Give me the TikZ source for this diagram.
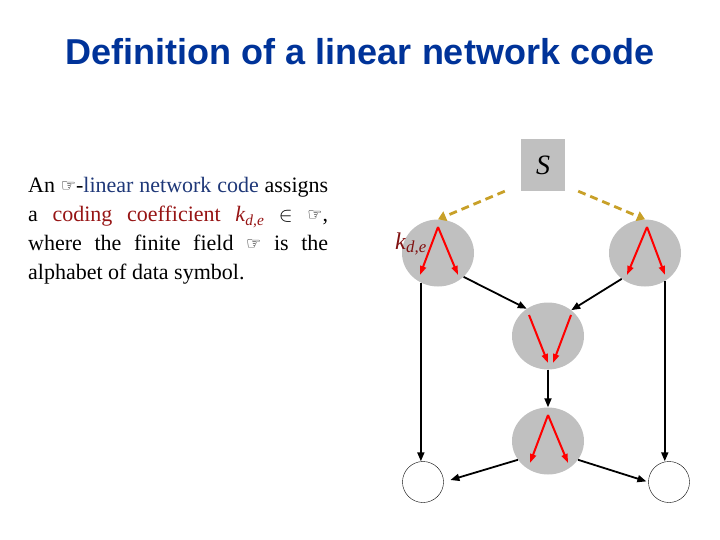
\documentclass[tikz,border=0pt]{standalone}
\usepackage{fontspec}
\setmainfont{Liberation Serif}
\newfontfamily\titlefont{Liberation Sans}
\newfontfamily\symfont{DejaVu Sans}
\usepackage{xcolor}
\usetikzlibrary{arrows.meta, positioning, shapes.geometric}

\hyphenpenalty=10000
\exhyphenpenalty=10000

\definecolor{titleblue}{RGB}{0,51,153}
\definecolor{termblue}{RGB}{31,56,120}
\definecolor{termred}{RGB}{150,20,20}
\definecolor{nodegray}{RGB}{192,192,192}
\definecolor{feedgold}{RGB}{200,160,40}

\newcommand{\fld}{{\symfont\fontsize{17}{17}\selectfont\raisebox{1pt}{☞}}}
\newcommand{\kde}{\textit{k}\textsubscript{\textit{d,e}}}

\tikzset{
  relay/.style={ellipse, fill=nodegray, minimum width=72pt, minimum height=67pt, inner sep=0pt},
  sink/.style={circle, draw, thin, minimum size=41pt, inner sep=0pt},
  link/.style={-{Triangle[length=9pt,width=7pt]}, line width=1.8pt},
  coef/.style={-{Triangle[length=9pt,width=6pt]}, red, line width=2pt},
  feed/.style={-{Triangle[length=8pt,width=10pt]}, feedgold, dash pattern=on 8pt off 5pt, line width=2.8pt}
}

\begin{document}
\begin{tikzpicture}[x=1pt, y=-1pt]
  \useasboundingbox (0,0) rectangle (720,540);

  % title
  \node[font=\titlefont\bfseries\fontsize{36}{40}\selectfont, text=titleblue] (title) at (360,52) {Definition of a linear network code};

  % definition text
  \node[anchor=north west, inner sep=0pt, text width=300pt, align=justify,
        font=\fontsize{22}{29}\selectfont] (defn) at (28,177)
    {An \fld-\textcolor{termblue}{linear network code} assigns a \textcolor{termred}{coding coefficient \kde} $\in$ \fld, where the finite field \fld{} is the alphabet of data symbol.};

  % source
  \node[fill=nodegray, minimum width=44pt, minimum height=52pt, inner sep=0pt,
        font=\fontsize{28}{28}\selectfont\itshape] (S) at (543,165) {S};

  % network nodes
  \node[relay] (L) at (438,253) {};
  \node[relay] (R) at (645,253) {};
  \node[relay] (M) at (548,336) {};
  \node[relay] (B) at (548,441) {};
  \node[sink] (WL) at (423,482) {};
  \node[sink] (WR) at (669,482) {};

  % source edges
  \draw[feed] ([xshift=-16pt]S.south west) -- (L.north);
  \draw[feed] ([xshift=13pt]S.south east) -- (R.north);

  % edges between nodes
  \draw[link] (L.-43) -- (M.128);
  \draw[link] (R.228) -- (M.48);
  \draw[link] (M.south) -- (B.north);
  \draw[link] (L.240) -- (L.240 |- WL.north);
  \draw[link] (R.305) -- (R.305 |- WR.north);
  \draw[link, shorten >=7pt] (B.212) -- (WL.east);
  \draw[link, shorten >=2pt] (B.328) -- (WR.west);

  % local coefficients
  \foreach \v/\dx in {L/0, R/2, B/0} {
    \draw[coef] ([shift={(\dx,-26)}]\v.center) -- ([shift={(-18,22)}]\v.center);
    \draw[coef] ([shift={(\dx,-26)}]\v.center) -- ([shift={(20,22)}]\v.center);
  }
  \draw[coef] ([shift={(-19,-21)}]M.center) -- ([shift={(0,27)}]M.center);
  \draw[coef] ([shift={(23,-21)}]M.center) -- ([shift={(5,27)}]M.center);

  \node[text=termred!85!black, font=\fontsize{24}{24}\selectfont, anchor=base west, inner sep=0pt]
    (kde) at (395,249) {\kde};
\end{tikzpicture}
\end{document}
